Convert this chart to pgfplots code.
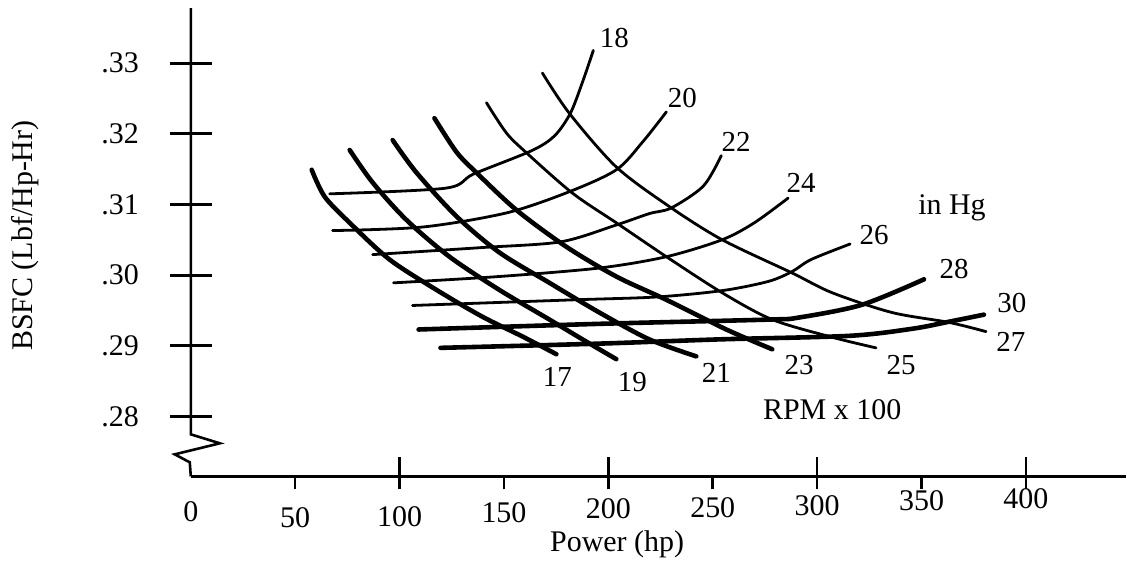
\documentclass[border=0pt]{standalone}
\usepackage{fontspec}
\setmainfont{Liberation Serif}
\usepackage{pgfplots}
\pgfplotsset{compat=1.18}

\pgfplotsset{
  bsfc frame/.style={width=468pt, height=234.5pt, scale only axis,
    xmin=0, xmax=447.8, ymin=0.2715, ymax=0.3378,
    axis x line*=bottom, axis y line*=left, clip=false},
}
\tikzset{
  rpm thick/.style={black, line width=2.3pt, smooth, tension=0.5, line cap=round},
  map thin/.style={black, line width=1.4pt, smooth, tension=0.5, line cap=round},
  curvelabel/.style={font=\fontsize{14.5}{17}\selectfont, inner sep=0pt},
}

\begin{document}
\begin{tikzpicture}[font=\fontsize{15}{18}\selectfont]

% tick marks below the x axis (every 50 hp)
\begin{axis}[bsfc frame, axis line style={draw=none},
  tick align=outside, major tick length=6.5pt,
  tick style={black, line width=1.3pt},
  xtick={50,100,...,400}, xticklabels={}, ytick=\empty]
\end{axis}

% tick marks above the x axis (every 100 hp)
\begin{axis}[bsfc frame, axis line style={draw=none},
  tick align=inside, major tick length=9.5pt,
  tick style={black, line width=1.3pt},
  xtick={100,200,300,400}, xticklabels={}, ytick=\empty]
\end{axis}

% x tick labels (they follow the slight slope of the drawn axis)
\begin{axis}[bsfc frame, axis line style={draw=none},
  major tick length=0pt,
  xtick={0,50,...,400},
  xticklabels={\raisebox{-1.5pt}{0},\raisebox{-4.5pt}{50},\raisebox{-4pt}{100},\raisebox{-2pt}{150},200,
    \raisebox{0.5pt}{250},\raisebox{1.5pt}{300},\raisebox{4pt}{350},\raisebox{5pt}{400}},
  xticklabel style={anchor=base, yshift=-21pt},
  ytick=\empty]
\end{axis}

\begin{axis}[bsfc frame,
  y axis line style={draw=none},
  x axis line style={line width=1.3pt, -},
  tick align=center, major tick length=21pt,
  tick style={black, line width=1.5pt},
  ytick={0.28,0.29,0.30,0.31,0.32,0.33},
  yticklabels={.28,.29,.30,.31,.32,.33},
  yticklabel style={xshift=-12pt},
  xtick=\empty,
]

% RPM x 100 lines
\addplot[rpm thick] coordinates {(57.9,0.3149) (64.1,0.3111) (76.1,0.3074) (95.2,0.3022) (117.7,0.2979) (139.7,0.2941) (158.9,0.2913) (175.1,0.2888)};
\addplot[rpm thick] coordinates {(76.1,0.3177) (87.1,0.3131) (103.3,0.3078) (123.9,0.3026) (147.8,0.2979) (171.8,0.2937) (187.6,0.2909) (203.8,0.2881)};
\addplot[rpm thick] coordinates {(96.7,0.3191) (108.1,0.3145) (127.3,0.3083) (147.8,0.3032) (171.8,0.2989) (195.7,0.2947) (219.6,0.2909) (242.1,0.2885)};
\addplot[rpm thick] coordinates {(116.7,0.3222) (127.3,0.3174) (136.8,0.3145) (156.0,0.3092) (179.9,0.3040) (203.8,0.2998) (227.8,0.2965) (256.5,0.2923) (278.5,0.2895)};
\addplot[map thin] coordinates {(141.6,0.3244) (151.2,0.3201) (160.8,0.3173) (182.8,0.3116) (203.8,0.3074) (227.8,0.3026) (254.5,0.2975) (278.5,0.2937) (307.2,0.2912) (328.2,0.2897)};
\addplot[map thin] coordinates {(168.4,0.3286) (181.3,0.3229) (203.8,0.3153) (229.2,0.3097) (254.5,0.3050) (288.0,0.3003) (307.2,0.2975) (335.9,0.2947) (363.2,0.2933) (380.9,0.2920)};

% manifold pressure lines (in Hg)
\addplot[map thin] coordinates {(66.5,0.3115) (122.0,0.3123) (135.4,0.3143) (163.2,0.3176) (174.2,0.3197) (181.8,0.3229) (187.6,0.3273) (192.8,0.3318)};
\addplot[map thin] coordinates {(67.9,0.3063) (111.0,0.3068) (151.2,0.3088) (181.3,0.3118) (203.8,0.3149) (216.3,0.3188) (227.8,0.3231)};
\addplot[map thin] coordinates {(87.1,0.3029) (139.7,0.3039) (177.0,0.3047) (202.9,0.3070) (219.6,0.3087) (230.1,0.3095) (245.5,0.3126) (254.1,0.3169)};
\addplot[map thin] coordinates {(97.1,0.2989) (147.8,0.2998) (195.7,0.3010) (227.8,0.3026) (254.5,0.3050) (269.9,0.3074) (286.1,0.3109)};
\addplot[map thin] coordinates {(106.2,0.2957) (183.7,0.2965) (223.0,0.2969) (254.5,0.2978) (276.6,0.2991) (288.0,0.3005) (297.1,0.3022) (315.8,0.3044)};
\addplot[rpm thick] coordinates {(109.1,0.2923) (195.7,0.2931) (276.6,0.2937) (291.4,0.2940) (321.5,0.2958) (351.2,0.2994)};
\addplot[rpm thick] coordinates {(119.6,0.2897) (195.7,0.2903) (253.1,0.2909) (315.3,0.2914) (345.5,0.2924) (363.2,0.2934) (379.9,0.2944)};

% curve names
\node[curvelabel] at (axis cs:202.9,0.3335) {18};
\node[curvelabel] at (axis cs:235.4,0.3251) {20};
\node[curvelabel] at (axis cs:261.2,0.3188) {22};
\node[curvelabel] at (axis cs:292.3,0.3131) {24};
\node[curvelabel] at (axis cs:327.3,0.3057) {26};
\node[curvelabel] at (axis cs:365.6,0.3008) {28};
\node[curvelabel] at (axis cs:393.3,0.2961) {30};
\node[curvelabel] at (axis cs:392.8,0.2905) {27};
\node[curvelabel] at (axis cs:340.2,0.2873) {25};
\node[curvelabel] at (axis cs:291.4,0.2873) {23};
\node[curvelabel] at (axis cs:251.7,0.2862) {21};
\node[curvelabel] at (axis cs:211.5,0.2849) {19};
\node[curvelabel] at (axis cs:175.6,0.2856) {17};
\node at (axis cs:364.6,0.3095) {in Hg};
\node at (axis cs:307.2,0.2810) {RPM x 100};

% y axis with its break
\draw[line width=1.3pt, line join=miter] (axis cs:0,0.3378) -- (axis cs:0,0.27746)
  -- (axis cs:13.9,0.27619) -- (axis cs:-7.7,0.27463) -- (axis cs:-0.5,0.2735) -- (axis cs:0,0.2715);

% axis titles
\node at (rel axis cs:0.456,0) [yshift=-34pt] {Power (hp)};
\node[rotate=90] at (rel axis cs:-0.1774,0.514) {BSFC (Lbf/Hp-Hr)};

% page extent
\path (rel axis cs:-0.2041,-0.2154) rectangle (rel axis cs:1,1.0171);
\end{axis}
\end{tikzpicture}
\end{document}
